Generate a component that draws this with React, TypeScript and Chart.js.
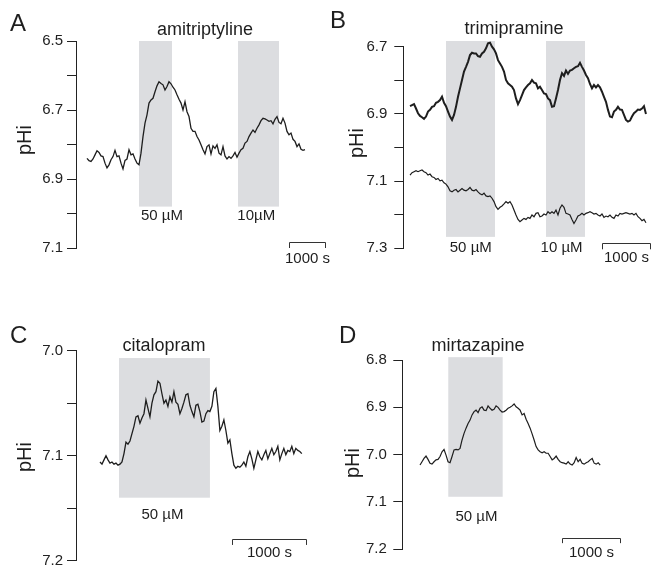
import { useEffect, useRef } from "react";
import { Chart, registerables } from "chart.js";

Chart.register(...registerables);

const FONT = "'Liberation Sans', Arial, Helvetica, sans-serif";
const INK = "#1e1e1e";
const SHADE = "#dcdde0";

// ---------- Panel A : amitriptyline ----------
const A_TITLE = "amitriptyline";
const A_T0 = 308; // s, first sample
const A_DT = 56; // s, sampling interval
const A_PH = [
  6.840, 6.847, 6.849, 6.842, 6.830, 6.818, 6.823, 6.833, 6.835, 6.854,
  6.868, 6.859, 6.844, 6.835, 6.817, 6.835, 6.833, 6.854, 6.871, 6.846,
  6.842, 6.815, 6.830, 6.827, 6.842, 6.854, 6.859, 6.825, 6.777, 6.738,
  6.714, 6.680, 6.671, 6.666, 6.647, 6.630, 6.618, 6.623, 6.627, 6.642,
  6.632, 6.618, 6.624, 6.634, 6.642, 6.656, 6.669, 6.680, 6.700, 6.676,
  6.705, 6.719, 6.753, 6.762, 6.762, 6.777, 6.787, 6.801, 6.815, 6.827,
  6.806, 6.801, 6.827, 6.804, 6.811, 6.801, 6.825, 6.830, 6.806, 6.833,
  6.842, 6.835, 6.840, 6.833, 6.823, 6.837, 6.825, 6.815, 6.811, 6.796,
  6.791, 6.777, 6.767, 6.758, 6.765, 6.753, 6.743, 6.731, 6.724, 6.726,
  6.729, 6.733, 6.731, 6.740, 6.727, 6.719, 6.736, 6.740, 6.724, 6.738,
  6.762, 6.772, 6.767, 6.785, 6.791, 6.806, 6.798, 6.814, 6.817, 6.815,
];
const A_YTICK_LABELS = ["6.5", "6.7", "6.9", "7.1"];
const A_SHADE_START = [1764, 4536];
const A_SHADE_END = [2688, 5684];
const A_DOSES = ["50 µM", "10µM"];
const A_DOSE_T = [2408, 5048];

// ---------- Panel B : trimipramine ----------
const B_TITLE = "trimipramine";
const B_T0 = 139;
const B_DT = 41.4;
const B_PH_TOP = [
  6.877, 6.874, 6.871, 6.884, 6.898, 6.906, 6.910, 6.915, 6.908, 6.893,
  6.888, 6.879, 6.877, 6.867, 6.864, 6.859, 6.849, 6.867, 6.877, 6.893,
  6.908, 6.918, 6.903, 6.879, 6.849, 6.824, 6.799, 6.774, 6.760, 6.745,
  6.725, 6.718, 6.720, 6.720, 6.728, 6.730, 6.720, 6.715, 6.705, 6.690,
  6.688, 6.700, 6.708, 6.720, 6.740, 6.750, 6.760, 6.774, 6.799, 6.809,
  6.814, 6.819, 6.829, 6.854, 6.871, 6.859, 6.844, 6.829, 6.821, 6.814,
  6.809, 6.799, 6.807, 6.809, 6.824, 6.819, 6.829, 6.839, 6.841, 6.854,
  6.859, 6.879, 6.877, 6.854, 6.829, 6.799, 6.779, 6.787, 6.771, 6.781,
  6.771, 6.769, 6.764, 6.760, 6.758, 6.748, 6.760, 6.771, 6.784, 6.794,
  6.811, 6.824, 6.814, 6.821, 6.814, 6.821, 6.834, 6.849, 6.864, 6.888,
  6.908, 6.910, 6.893, 6.888, 6.879, 6.887, 6.888, 6.903, 6.918, 6.923,
  6.920, 6.908, 6.898, 6.893, 6.887, 6.888, 6.884, 6.877, 6.900,
];
const B_PH_BOTTOM = [
  7.082, 7.075, 7.072, 7.069, 7.072, 7.069, 7.067, 7.072, 7.075, 7.082,
  7.079, 7.087, 7.089, 7.095, 7.092, 7.099, 7.097, 7.105, 7.109, 7.117,
  7.129, 7.132, 7.127, 7.125, 7.132, 7.127, 7.122, 7.127, 7.129, 7.125,
  7.119, 7.127, 7.129, 7.125, 7.132, 7.138, 7.141, 7.136, 7.144, 7.146,
  7.144, 7.151, 7.161, 7.176, 7.184, 7.178, 7.174, 7.168, 7.161, 7.166,
  7.161, 7.171, 7.186, 7.201, 7.214, 7.221, 7.216, 7.211, 7.214, 7.208,
  7.211, 7.201, 7.206, 7.196, 7.194, 7.206, 7.204, 7.198, 7.201, 7.191,
  7.196, 7.191, 7.196, 7.186, 7.201, 7.181, 7.171, 7.178, 7.196, 7.198,
  7.201, 7.214, 7.226, 7.216, 7.204, 7.201, 7.196, 7.201, 7.196, 7.194,
  7.191, 7.194, 7.198, 7.196, 7.201, 7.204, 7.198, 7.208, 7.204, 7.206,
  7.201, 7.208, 7.211, 7.201, 7.204, 7.196, 7.198, 7.196, 7.194, 7.196,
  7.198, 7.196, 7.201, 7.196, 7.206, 7.211, 7.218, 7.214, 7.224,
];
const B_YTICK_LABELS = ["6.7", "6.9", "7.1", "7.3"];
const B_SHADE_START = [884, 2954];
const B_SHADE_END = [1899, 3762];
const B_DOSES = ["50 µM", "10 µM"];
const B_DOSE_T = [1397, 3277];

// ---------- Panel C : citalopram ----------
const C_TITLE = "citalopram";
const C_T0 = 323;
const C_DT = 26.9;
const C_PH = [
  7.106, 7.108, 7.104, 7.100, 7.104, 7.107, 7.106, 7.108, 7.107, 7.109,
  7.108, 7.106, 7.098, 7.087, 7.089, 7.086, 7.079, 7.072, 7.063, 7.062,
  7.069, 7.064, 7.060, 7.047, 7.055, 7.063, 7.050, 7.042, 7.039, 7.029,
  7.031, 7.041, 7.050, 7.047, 7.053, 7.044, 7.049, 7.039, 7.049, 7.051,
  7.060, 7.055, 7.049, 7.042, 7.041, 7.052, 7.058, 7.063, 7.052, 7.051,
  7.058, 7.068, 7.067, 7.060, 7.057, 7.058, 7.053, 7.039, 7.036, 7.053,
  7.076, 7.072, 7.066, 7.076, 7.088, 7.085, 7.098, 7.109, 7.112, 7.110,
  7.111, 7.109, 7.106, 7.110, 7.101, 7.096, 7.103, 7.112, 7.104, 7.096,
  7.101, 7.104, 7.099, 7.095, 7.103, 7.098, 7.093, 7.099, 7.096, 7.091,
  7.104, 7.098, 7.093, 7.099, 7.095, 7.096, 7.091, 7.098, 7.093, 7.095,
  7.096, 7.098,
];
const C_YTICK_LABELS = ["7.0", "7.1", "7.2"];
const C_SHADE_START = [579];
const C_SHADE_END = [1803];
const C_DOSES = ["50 µM"];
const C_DOSE_T = [1164];

// ---------- Panel D : mirtazapine ----------
const D_TITLE = "mirtazapine";
const D_T0 = 307;
const D_DT = 34.7;
const D_PH = [
  7.022, 7.015, 7.008, 7.003, 7.010, 7.018, 7.020, 7.015, 7.011, 7.010,
  7.004, 6.994, 6.989, 7.001, 7.015, 7.017, 7.004, 6.990, 6.989, 6.990,
  6.987, 6.969, 6.955, 6.944, 6.934, 6.927, 6.916, 6.909, 6.906, 6.911,
  6.902, 6.899, 6.906, 6.907, 6.897, 6.902, 6.906, 6.904, 6.897, 6.900,
  6.906, 6.910, 6.909, 6.906, 6.902, 6.900, 6.897, 6.893, 6.899, 6.902,
  6.906, 6.916, 6.913, 6.925, 6.934, 6.944, 6.956, 6.969, 6.983, 6.990,
  6.994, 6.996, 6.994, 6.997, 6.997, 7.004, 7.011, 7.008, 7.003, 7.010,
  7.015, 7.017, 7.018, 7.020, 7.015, 7.020, 7.022, 7.017, 7.006, 7.015,
  7.010, 7.018, 7.020, 7.017, 7.015, 7.011, 7.008, 7.018, 7.020, 7.017,
  7.022,
];
const D_YTICK_LABELS = ["6.8", "6.9", "7.0", "7.1", "7.2"];
const D_SHADE_START = [797];
const D_SHADE_END = [1740];
const D_DOSES = ["50 µM"];
const D_DOSE_T = [1286];

const SCALE_BAR_S = 1000;
const SCALE_BAR_LABEL = "1000 s";
const Y_LABEL = "pHi";

type Trace = { t0: number; dt: number; values: number[]; width: number };
type Panel = {
  key: string;
  letter: string;
  title: string;
  area: { l: number; r: number; t: number; b: number };
  yMin: number;
  yMax: number;
  yStep: number;
  yLabels: string[];
  xMax: number;
  labelPad: number;
  letterPos: [number, number];
  titlePos: [number, number];
  yTitlePos: [number, number];
  traces: Trace[];
  shadeStart: number[];
  shadeEnd: number[];
  shadeTop: number;
  shadeBottom: number;
  doses: string[];
  doseT: number[];
  doseY: number;
  barStart: number;
  barY: number;
  barTickY: number;
  barLabelY: number;
};

const CANVAS_W = 655;
const CANVAS_H = 620;

const PANELS: Panel[] = [
  {
    key: "A", letter: "A", title: A_TITLE,
    area: { l: 76, r: 326, t: 41, b: 248 },
    yMin: 6.5, yMax: 7.1, yStep: 0.1, yLabels: A_YTICK_LABELS,
    xMax: 7000, labelPad: 4,
    letterPos: [10, 31], titlePos: [205, 35], yTitlePos: [25, 140],
    traces: [{ t0: A_T0, dt: A_DT, values: A_PH, width: 1.3 }],
    shadeStart: A_SHADE_START, shadeEnd: A_SHADE_END, shadeTop: 6.5, shadeBottom: 6.98,
    doses: A_DOSES, doseT: A_DOSE_T, doseY: 7.006,
    barStart: 5964, barY: 7.082, barTickY: 7.1, barLabelY: 7.132,
  },
  {
    key: "B", letter: "B", title: B_TITLE,
    area: { l: 403.3, r: 650.6, t: 46.7, b: 248.3 },
    yMin: 6.7, yMax: 7.3, yStep: 0.1, yLabels: B_YTICK_LABELS,
    xMax: 5120, labelPad: 7,
    letterPos: [330, 28], titlePos: [514, 34], yTitlePos: [357, 143],
    traces: [
      { t0: B_T0, dt: B_DT, values: B_PH_TOP, width: 2 },
      { t0: B_T0, dt: B_DT, values: B_PH_BOTTOM, width: 1.2 },
    ],
    shadeStart: B_SHADE_START, shadeEnd: B_SHADE_END, shadeTop: 6.683, shadeBottom: 7.266,
    doses: B_DOSES, doseT: B_DOSE_T, doseY: 7.299,
    barStart: 4114, barY: 7.284, barTickY: 7.303, barLabelY: 7.329,
  },
  {
    key: "C", letter: "C", title: C_TITLE,
    area: { l: 76, r: 310, t: 350.7, b: 560.7 },
    yMin: 7.0, yMax: 7.2, yStep: 0.05, yLabels: C_YTICK_LABELS,
    xMax: 3150, labelPad: 4,
    letterPos: [10, 343], titlePos: [164, 351], yTitlePos: [25, 457],
    traces: [{ t0: C_T0, dt: C_DT, values: C_PH, width: 1.3 }],
    shadeStart: C_SHADE_START, shadeEnd: C_SHADE_END, shadeTop: 7.007, shadeBottom: 7.14,
    doses: C_DOSES, doseT: C_DOSE_T, doseY: 7.156,
    barStart: 2096, barY: 7.179, barTickY: 7.185, barLabelY: 7.193,
  },
  {
    key: "D", letter: "D", title: D_TITLE,
    area: { l: 402.3, r: 622.1, t: 360, b: 549.3 },
    yMin: 6.8, yMax: 7.2, yStep: 0.1, yLabels: D_YTICK_LABELS,
    xMax: 3810, labelPad: 6.5,
    letterPos: [339, 343], titlePos: [478, 351], yTitlePos: [353, 463],
    traces: [{ t0: D_T0, dt: D_DT, values: D_PH, width: 1.2 }],
    shadeStart: D_SHADE_START, shadeEnd: D_SHADE_END, shadeTop: 6.794, shadeBottom: 7.089,
    doses: D_DOSES, doseT: D_DOSE_T, doseY: 7.132,
    barStart: 2773, barY: 7.176, barTickY: 7.187, barLabelY: 7.208,
  },
];

function panelPlugin(p: Panel) {
  return {
    id: "panelDecor" + p.key,
    beforeDatasetsDraw(chart: any) {
      const { ctx, scales } = chart;
      const x = scales.x;
      const y = scales.y;
      ctx.save();
      ctx.fillStyle = SHADE;
      p.shadeStart.forEach((s, i) => {
        const x0 = x.getPixelForValue(s);
        const x1 = x.getPixelForValue(p.shadeEnd[i]);
        const y0 = y.getPixelForValue(p.shadeTop);
        const y1 = y.getPixelForValue(p.shadeBottom);
        ctx.fillRect(x0, y0, x1 - x0, y1 - y0);
      });
      ctx.restore();
    },
    afterDraw(chart: any) {
      const { ctx, scales } = chart;
      const x = scales.x;
      const y = scales.y;
      ctx.save();
      ctx.fillStyle = INK;
      // panel letter
      ctx.font = `24px ${FONT}`;
      ctx.textAlign = "left";
      ctx.textBaseline = "alphabetic";
      ctx.fillText(p.letter, p.letterPos[0], p.letterPos[1]);
      // title
      ctx.font = `18px ${FONT}`;
      ctx.textAlign = "center";
      ctx.fillText(p.title, p.titlePos[0], p.titlePos[1]);
      // y title
      ctx.save();
      ctx.translate(p.yTitlePos[0], p.yTitlePos[1]);
      ctx.rotate(-Math.PI / 2);
      ctx.font = `20px ${FONT}`;
      ctx.textAlign = "center";
      ctx.textBaseline = "middle";
      ctx.fillText(Y_LABEL, 0, 0);
      ctx.restore();
      // dose labels
      ctx.font = `15px ${FONT}`;
      ctx.textAlign = "center";
      ctx.textBaseline = "middle";
      p.doses.forEach((d, i) => {
        ctx.fillText(d, x.getPixelForValue(p.doseT[i]), y.getPixelForValue(p.doseY));
      });
      // scale bar
      const bx0 = Math.round(x.getPixelForValue(p.barStart)) + 0.5;
      const bx1 = Math.round(x.getPixelForValue(p.barStart + SCALE_BAR_S)) + 0.5;
      const by = Math.round(y.getPixelForValue(p.barY)) + 0.5;
      const bt = y.getPixelForValue(p.barTickY);
      ctx.strokeStyle = "#333";
      ctx.lineWidth = 1;
      ctx.beginPath();
      ctx.moveTo(bx0, bt);
      ctx.lineTo(bx0, by);
      ctx.lineTo(bx1, by);
      ctx.lineTo(bx1, bt);
      ctx.stroke();
      ctx.fillText(SCALE_BAR_LABEL, (bx0 + bx1) / 2, y.getPixelForValue(p.barLabelY));
      ctx.restore();
    },
  };
}

function PanelChart({ p }: { p: Panel }) {
  const ref = useRef<HTMLCanvasElement | null>(null);
  useEffect(() => {
    if (!ref.current) return;
    const datasets = p.traces.map((tr) => ({
      data: tr.values.map((v, i) => ({ x: tr.t0 + i * tr.dt, y: v })),
      borderColor: INK,
      borderWidth: tr.width,
      pointRadius: 0,
      tension: 0,
      fill: false,
      clip: false as any,
    }));
    const chart = new Chart(ref.current, {
      type: "line",
      data: { datasets },
      options: {
        animation: false,
        responsive: false,
        devicePixelRatio: 1,
        events: [],
        layout: {
          padding: {
            left: 0,
            top: p.area.t,
            right: CANVAS_W - p.area.r,
            bottom: CANVAS_H - p.area.b,
          },
        },
        plugins: {
          legend: { display: false },
          tooltip: { enabled: false },
          title: { display: false },
        },
        scales: {
          x: {
            type: "linear",
            display: false,
            min: 0,
            max: p.xMax,
          },
          y: {
            type: "linear",
            reverse: true,
            min: p.yMin,
            max: p.yMax,
            afterFit: (scale: any) => {
              scale.width = p.area.l;
            },
            border: { display: true, color: "#222", width: 1 },
            grid: {
              display: true,
              drawOnChartArea: false,
              drawTicks: true,
              tickLength: 9,
              color: "#222",
              lineWidth: 1,
            },
            ticks: {
              stepSize: p.yStep,
              autoSkip: false,
              padding: p.labelPad,
              color: "#222",
              font: { family: FONT, size: 15 },
              callback: (value: any) => {
                const s = Number(value).toFixed(1);
                const exact = Math.abs(Number(value) - Number(s)) < 1e-6;
                return exact && p.yLabels.includes(s) ? s : "";
              },
            },
          },
        },
      },
      plugins: [panelPlugin(p)],
    });
    return () => chart.destroy();
  }, [p]);
  return (
    <canvas
      ref={ref}
      width={CANVAS_W}
      height={CANVAS_H}
      style={{ position: "absolute", left: 0, top: 0, width: CANVAS_W, height: CANVAS_H }}
    />
  );
}

export default function App() {
  return (
    <div
      style={{
        position: "absolute",
        left: 0,
        top: 0,
        width: 655,
        height: 565,
        overflow: "hidden",
        background: "#ffffff",
      }}
    >
      {PANELS.map((p) => (
        <PanelChart key={p.key} p={p} />
      ))}
    </div>
  );
}
